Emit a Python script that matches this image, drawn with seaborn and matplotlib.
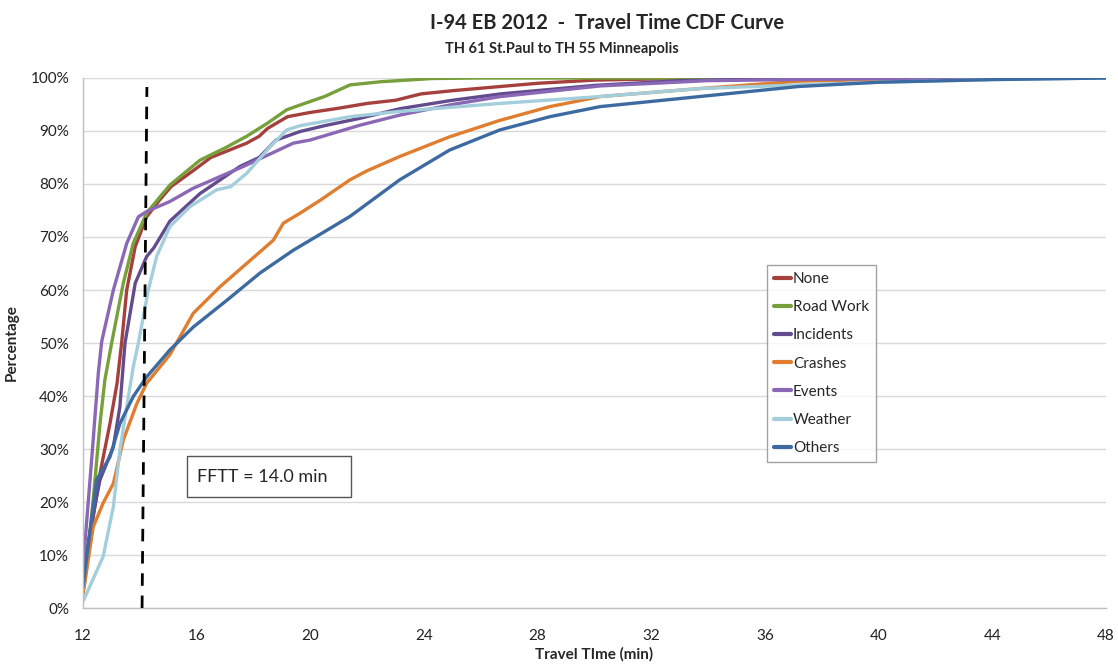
import matplotlib
matplotlib.use("Agg")
import matplotlib.pyplot as plt
from matplotlib.patches import Rectangle
import seaborn as sns
import pandas as pd
import numpy as np

# ---------------- data ----------------
categories = ["None", "Road Work", "Incidents", "Crashes", "Events", "Weather", "Others"]

none_x = [12, 12.3, 12.6, 12.95, 13.2, 13.36, 13.54, 13.84, 14.24, 14.7, 15.1, 15.9, 16.5, 17.2,
          17.76, 18.2, 18.5, 19.2, 20, 21, 22, 23, 23.9, 25, 26.7, 28, 30, 32, 36, 40, 48]
none_y = [4, 15, 25.4, 34.8, 42.4, 50, 60, 68.2, 73.8, 77, 79.5, 82.6, 85, 86.5,
          87.7, 89, 90.5, 92.7, 93.5, 94.3, 95.2, 95.8, 97, 97.6, 98.4, 99, 99.6, 99.8, 100, 100, 100]

road_x = [12, 12.07, 12.36, 12.6, 12.77, 13.01, 13.42, 13.77, 14.24, 14.7, 15.06, 16.12, 17,
          17.76, 18.5, 19.17, 19.64, 20.5, 21.4, 22.5, 24.3, 26, 30, 48]
road_y = [3, 5.3, 20.4, 34.8, 43, 50, 61.3, 68.8, 74.5, 77.5, 79.8, 84.5, 86.8,
          89, 91.5, 94, 94.9, 96.5, 98.7, 99.3, 99.9, 100, 100, 100]

inc_x = [12, 12.3, 12.6, 13.07, 13.3, 13.48, 13.84, 14.24, 14.5, 15.06, 16.12, 17.52, 18.2,
         18.8, 19.64, 20.5, 21.75, 23.15, 25, 26.7, 30, 33, 36, 40, 48]
inc_y = [6, 16, 24.2, 30.4, 38, 50, 61.3, 66.3, 68, 73, 78.2, 83.3, 85,
         88.3, 89.9, 91, 92.4, 94.2, 95.8, 97, 98.6, 99.5, 99.8, 100, 100]

crash_x = [12, 12.36, 12.71, 13.07, 13.42, 13.89, 14.24, 15.06, 15.88, 16.82, 17.76, 18.7, 19.05,
           19.64, 20.34, 21.4, 22, 23.15, 24.9, 26.67, 28.43, 30.2, 33.7, 37.2, 40, 44, 48]
crash_y = [2.5, 15.3, 19.8, 23.5, 31.7, 38.5, 42.4, 47.8, 55.6, 60.6, 65, 69.4, 72.6,
           74.5, 76.9, 80.8, 82.5, 85.2, 88.9, 92, 94.6, 96.5, 98, 99.4, 99.7, 99.9, 100]

event_x = [12, 12.36, 12.54, 12.66, 13.07, 13.54, 13.95, 14.24, 15.06, 15.88, 17.64, 19.4, 20,
           21.75, 23.15, 25, 26.7, 30.2, 34, 40, 48]
event_y = [7.5, 31.7, 44.3, 50.3, 60, 68.8, 73.8, 74.8, 76.7, 79.2, 83.3, 87.7, 88.3,
           91.1, 93, 95, 96.5, 98.5, 99.5, 99.9, 100]

weather_x = [12, 12.71, 13.07, 13.3, 13.54, 13.77, 13.95, 14.3, 14.59, 15.06, 15.76, 16.7, 17.2,
             17.76, 18.58, 19.17, 19.64, 21.4, 23.15, 26.67, 30.2, 33.7, 37.2, 40, 44, 48]
weather_y = [1.2, 9.7, 19.1, 29.8, 38, 45.5, 50, 60, 66.3, 72, 75.7, 78.9, 79.5,
             82, 87, 90.2, 91, 92.7, 93.7, 95.2, 96.5, 98, 98.7, 99.2, 99.7, 100]

others_x = [12, 12.48, 12.95, 13.3, 13.77, 14.24, 15.06, 15.88, 17.05, 18.23, 19.4, 20.5,
            21.4, 23.15, 24.9, 26.67, 28.43, 30.2, 33.7, 37.2, 40, 44, 48]
others_y = [4, 24.2, 28.5, 34.8, 39.9, 43.6, 48.7, 53, 58, 63.2, 67.5, 71,
            73.9, 80.8, 86.4, 90.2, 92.7, 94.6, 96.5, 98.4, 99.2, 99.7, 100]

x_ticks = [12, 16, 20, 24, 28, 32, 36, 40, 44, 48]
y_ticks = [0, 10, 20, 30, 40, 50, 60, 70, 80, 90, 100]

fftt_value = 14.0
fftt_line_x = [14.08, 14.25]
fftt_line_y = [0, 98.3]

colors = ["#A5403D", "#77A03B", "#634C8E", "#E07D2F", "#8B68B5", "#A3CEDC", "#3D6AA1"]

# ---------------- build long table ----------------
series = [(none_x, none_y), (road_x, road_y), (inc_x, inc_y), (crash_x, crash_y),
          (event_x, event_y), (weather_x, weather_y), (others_x, others_y)]
frames = []
for cat, (xs, ys) in zip(categories, series):
    frames.append(pd.DataFrame({"time": xs, "pct": ys, "cause": cat}))
df = pd.concat(frames, ignore_index=True)

# ---------------- plot ----------------
sns.set_style("white")
plt.rcParams["font.family"] = ["Lato", "DejaVu Sans"]

fig = plt.figure(figsize=(11.18, 6.70), dpi=100)
ax = fig.add_axes([0.0742, 0.0925, 0.9151, 0.7911])

sns.lineplot(data=df, x="time", y="pct", hue="cause", hue_order=categories,
             palette=dict(zip(categories, colors)), estimator=None, sort=True,
             linewidth=2.4, ax=ax, legend=True)

ax.plot(fftt_line_x, fftt_line_y, color="black", linestyle=(0, (4.5, 3.5)), linewidth=2.0, zorder=5)

ax.set_xlim(x_ticks[0], x_ticks[-1])
ax.set_ylim(0, 100)
ax.set_xticks(x_ticks)
ax.set_yticks(y_ticks)
ax.set_xticklabels([str(t) for t in x_ticks], fontsize=11, color="#222222")
ax.set_yticklabels([f"{t}%" for t in y_ticks], fontsize=11, color="#222222")
ax.tick_params(axis="y", length=0, pad=10)
ax.tick_params(axis="x", length=0, pad=15)

ax.grid(axis="y", color="#D9D9D9", linewidth=1)
ax.grid(axis="x", visible=False)
for side in ["top", "right"]:
    ax.spines[side].set_visible(False)
for side in ["left", "bottom"]:
    ax.spines[side].set_color("#BFBFBF")
    ax.spines[side].set_linewidth(1)

ax.set_xlabel("Travel TIme (min)", fontsize=11, fontweight="bold", labelpad=3)
ax.set_ylabel("Percentage", fontsize=11, fontweight="bold", labelpad=8)

fig.text(0.543, 0.965, "I-94 EB 2012  -  Travel Time CDF Curve", ha="center", va="center",
         fontsize=14.5, fontweight="bold")
fig.text(0.503, 0.927, "TH 61 St.Paul to TH 55 Minneapolis", ha="center", va="center",
         fontsize=10.5, fontweight="bold")

# FFTT text box
ax.add_patch(Rectangle((0.1017, 0.2094), 0.1603, 0.0774, transform=ax.transAxes,
                       facecolor="white", edgecolor="#555555", linewidth=1, zorder=6))
ax.text(0.111, 0.248, f"FFTT = {fftt_value:.1f} min", transform=ax.transAxes, fontsize=13,
        ha="left", va="center", zorder=7)

leg = ax.legend(loc="upper left", bbox_to_anchor=(0.6686, 0.647), frameon=True, fontsize=11,
                handlelength=1.15, handletextpad=0.1, labelspacing=0.93, borderpad=0.45,
                borderaxespad=0, fancybox=False, title=None)
leg.get_frame().set_edgecolor("#8C8C8C")
leg.get_frame().set_linewidth(1)
for line in leg.get_lines():
    line.set_linewidth(3)

fig.savefig("out.png", dpi=100)
